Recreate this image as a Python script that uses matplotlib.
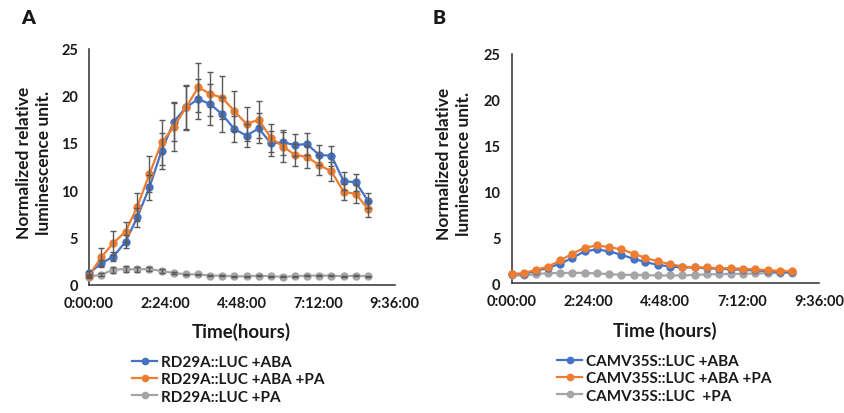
import matplotlib
matplotlib.use("Agg")
import matplotlib.pyplot as plt
from matplotlib.lines import Line2D
from matplotlib.ticker import FixedLocator, FuncFormatter

plt.rcParams['font.family'] = ['Lato', 'DejaVu Sans']
plt.rcParams['font.weight'] = 'bold'

# sampling times (minutes from start)
t_min = [0, 23, 46, 69, 91, 114, 137, 160, 183, 206, 229, 251,
         274, 297, 320, 343, 366, 388, 411, 434, 457, 480, 503, 526]

# Panel A: RD29A::LUC
a_aba = [1.18, 2.24, 2.95, 4.54, 7.12, 10.3, 14.18, 17.25, 18.77, 19.65, 19.09, 18.03,
         16.47, 15.77, 16.54, 14.95, 15.06, 14.78, 14.88, 13.72, 13.65, 10.96, 10.82, 8.88]
a_aba_err = [0.2, 0.4, 0.5, 0.7, 1.0, 1.35, 1.9, 2.1, 2.3, 2.1, 2.2, 1.85,
             1.4, 1.25, 1.6, 1.35, 1.34, 1.2, 1.2, 1.1, 1.05, 1.0, 0.9, 0.8]
a_aba_pa = [0.95, 2.88, 4.40, 5.6, 8.24, 11.7, 15.06, 16.68, 18.77, 20.89, 20.18, 19.79,
            18.38, 17.0, 17.46, 15.52, 14.6, 13.75, 13.51, 12.66, 11.99, 9.83, 9.59, 8.0]
a_aba_pa_err = [0.2, 0.95, 1.3, 1.05, 1.5, 1.9, 2.35, 2.5, 2.4, 2.6, 2.3, 2.25,
                2.1, 1.77, 1.95, 1.5, 1.6, 1.15, 1.2, 1.06, 1.0, 0.83, 0.95, 0.8]
a_pa = [0.83, 1.04, 1.57, 1.64, 1.61, 1.64, 1.43, 1.22, 1.08, 1.08, 0.94, 0.94,
        0.87, 0.87, 0.94, 0.87, 0.83, 0.87, 0.94, 0.94, 0.94, 0.87, 0.94, 0.87]
a_pa_err = [0.1, 0.15, 0.3, 0.3, 0.25, 0.25, 0.2, 0.1, 0.08, 0.08, 0.06, 0.06,
            0.05, 0.05, 0.05, 0.05, 0.05, 0.05, 0.05, 0.05, 0.05, 0.05, 0.05, 0.05]

# Panel B: CAMV35S::LUC
b_aba = [1.02, 1.0, 1.35, 1.68, 2.12, 2.77, 3.47, 3.69, 3.47, 3.1, 2.66, 2.3,
         2.0, 1.82, 1.72, 1.72, 1.64, 1.57, 1.53, 1.46, 1.39, 1.31, 1.24, 1.2]
b_aba_pa = [0.99, 1.1, 1.46, 1.82, 2.48, 3.21, 3.87, 4.12, 3.94, 3.69, 3.21, 2.77,
            2.37, 2.08, 1.82, 1.72, 1.72, 1.64, 1.64, 1.57, 1.5, 1.42, 1.35, 1.31]
b_pa = [0.84, 0.84, 0.99, 1.1, 1.1, 1.13, 1.13, 1.06, 0.99, 0.91, 0.91, 0.88,
        0.84, 0.84, 0.84, 0.91, 0.95, 0.99, 1.02, 1.02, 1.06, 1.1, 1.1, 1.13]

labels_a = ['RD29A::LUC +ABA', 'RD29A::LUC +ABA +PA', 'RD29A::LUC +PA']
labels_b = ['CAMV35S::LUC +ABA', 'CAMV35S::LUC +ABA +PA', 'CAMV35S::LUC  +PA']
colors = ['#4472C4', '#ED7D31', '#A5A5A5']
x_ticks = [0, 144, 288, 432, 576]

W, H = 844, 414
fig = plt.figure(figsize=(W / 100, H / 100), dpi=100)


def px_axes(l, r, t, b):
    return fig.add_axes([l / W, 1 - b / H, (r - l) / W, (b - t) / H])


def hms(v, pos):
    m = int(round(v))
    return f"{m // 60}:{m % 60:02d}:00"


def style(ax):
    ax.set_xlim(0, 576)
    ax.set_ylim(0, 25)
    ax.xaxis.set_major_locator(FixedLocator(x_ticks))
    ax.xaxis.set_major_formatter(FuncFormatter(hms))
    ax.set_yticks([0, 5, 10, 15, 20, 25])
    for s in ['top', 'right']:
        ax.spines[s].set_visible(False)
    for s in ['left', 'bottom']:
        ax.spines[s].set_color('#404040')
        ax.spines[s].set_linewidth(1.2)
    ax.tick_params(length=0, labelsize=10.5, colors='#1a1a1a', pad=8)
    for lab in ax.get_xticklabels() + ax.get_yticklabels():
        lab.set_fontweight('bold')
    ax.patch.set_alpha(0)


def series(ax, y, c, err=None):
    ax.plot(t_min, y, color=c, lw=1.6, marker='o', ms=5, clip_on=False, zorder=3)
    if err is not None:
        ax.errorbar(t_min, y, yerr=err, fmt='none', ecolor='#595959',
                    elinewidth=1, capsize=2.5, capthick=1, zorder=4, clip_on=False)


axA = px_axes(89, 394.5, 49.5, 285.5)
series(axA, a_pa, colors[2], a_pa_err)
series(axA, a_aba, colors[0], a_aba_err)
series(axA, a_aba_pa, colors[1], a_aba_pa_err)
style(axA)

axB = px_axes(511.5, 819, 55, 284.2)
series(axB, b_pa, colors[2])
series(axB, b_aba, colors[0])
series(axB, b_aba_pa, colors[1])
style(axB)

ylab = 'Normalized relative\nluminescence unit.'
fig.text(34 / W, 1 - 163 / H, ylab, rotation=90, ha='center', va='center',
         fontsize=12.5, fontweight='bold', linespacing=1.25, color='#1a1a1a')
fig.text(454 / W, 1 - 164 / H, ylab, rotation=90, ha='center', va='center',
         fontsize=12.5, fontweight='bold', linespacing=1.25, color='#1a1a1a')

fig.text(241 / W, 1 - 332 / H, 'Time(hours)', ha='center', va='center',
         fontsize=13.5, fontweight='bold', color='#1a1a1a')
fig.text(665 / W, 1 - 331 / H, 'Time (hours)', ha='center', va='center',
         fontsize=13.5, fontweight='bold', color='#1a1a1a')

fig.text(28 / W, 1 - 18 / H, 'A', ha='center', va='center', fontsize=14,
         fontweight='heavy', color='#1a1a1a')
fig.text(439 / W, 1 - 18 / H, 'B', ha='center', va='center', fontsize=14,
         fontweight='heavy', color='#1a1a1a')


def make_legend(labels, x, y):
    handles = [Line2D([], [], color=c, lw=1.6, marker='o', ms=4.5) for c in colors]
    leg = fig.legend(handles, labels, loc='upper left', bbox_to_anchor=(x / W, 1 - y / H),
                     frameon=False, fontsize=11, handlelength=1.65, handletextpad=0.25,
                     labelspacing=0.22, borderpad=0, borderaxespad=0, numpoints=1)
    for t in leg.get_texts():
        t.set_fontweight('bold')
        t.set_color('#1a1a1a')


make_legend(labels_a, 132, 356)
make_legend(labels_b, 557, 355)

fig.savefig('out.png', dpi=100)
